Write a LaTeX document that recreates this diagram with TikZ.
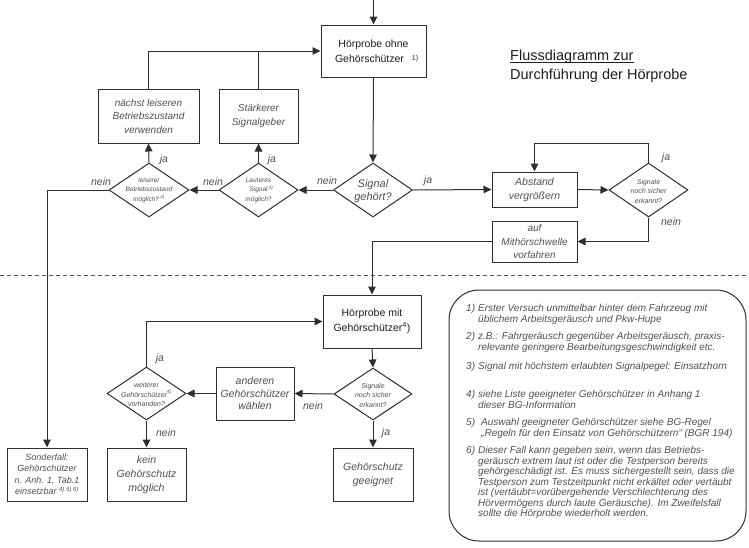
\documentclass[tikz,border=0pt]{standalone}
\usepackage{fontspec}
\setmainfont{Liberation Sans}
\usetikzlibrary{arrows.meta,shapes.geometric}
\definecolor{ln}{HTML}{2E2E2E}
\definecolor{tx}{HTML}{505050}
\definecolor{tu}{HTML}{1E1E1E}
\newcommand\mybf{\fontsize{10}{13.5}\selectfont\itshape}
\newcommand\myuf{\fontsize{10.5}{15}\selectfont}
\newcommand\mydf{\fontsize{7}{9.5}\selectfont\itshape}
\newcommand\mylf{\fontsize{10.5}{12}\selectfont\itshape}
\newcommand\mynf{\fontsize{10}{10.5}\selectfont\itshape}
\begin{document}
\begin{tikzpicture}[x=1pt,y=-1pt,
  box/.style={draw=ln,line width=1pt,rectangle,inner sep=0pt,align=center,text=tx,font=\mybf},
  ubox/.style={box,text=tu,font=\myuf},
  dia/.style={draw=ln,line width=1pt,diamond,inner sep=0pt,minimum width=79pt,minimum height=54pt},
  dtext/.style={inner sep=0pt,align=center,text=tx,font=\mydf},
  arr/.style={draw=ln,line width=1pt,-{Triangle[length=8pt,width=7.5pt]}},
  con/.style={draw=ln,line width=1pt},
  lbl/.style={inner sep=0pt,text=tx,font=\mylf},
  note/.style={inner sep=0pt,align=left,text=tx,font=\mynf,anchor=north west}]
\useasboundingbox (0,0) rectangle (749,547);
\fill[white] (0,0) rectangle (749,547);

% upper part
\node[ubox,minimum width=105pt,minimum height=52pt] (h1) at (373.5,51) {Hörprobe ohne\\Gehörschützer\hspace*{8pt}};
\node[inner sep=0pt,font=\fontsize{7}{8}\selectfont,text=tu] (h1n) at (415,59) {1)};
\node[dia] (d1) at (373,190) {};
\node[dtext,font=\fontsize{11}{12.5}\selectfont\itshape] (d1t) at (373,191) {Signal\\gehört?};
\node[dia] (d2) at (258.5,190) {};
\node[dtext,font=\fontsize{6.5}{9.5}\selectfont\itshape] (d2t) at (258.5,190) {Lauteres\\\hspace*{6pt}Signal\textsuperscript{ 3)}\\möglich?};
\node[dia,minimum width=80pt] (d3) at (149,190) {};
\node[dtext,font=\fontsize{6.5}{9.5}\selectfont\itshape] (d3t) at (149,190) {leiserer\\Betriebszustand\\möglich?\textsuperscript{ 2)}};
\node[box,minimum width=79pt,minimum height=54pt] (stk) at (258.5,116) {Stärkerer\\Signalgeber};
\node[box,minimum width=101pt,minimum height=54pt] (nl) at (148.5,116) {nächst leiseren\\Betriebszustand\\verwenden};
\node[box,minimum width=85pt,minimum height=35pt,font=\fontsize{10.5}{14}\selectfont\itshape] (ab) at (534.5,189.5) {Abstand\\vergrößern};
\node[dia] (d4) at (648.5,190) {};
\node[dtext] (d4t) at (648.5,191) {Signale\\noch sicher\\erkannt?};
\node[box,minimum width=85pt,minimum height=41pt,font=\fontsize{10}{13.5}\selectfont\itshape] (mh) at (534.5,241.5) {auf\\Mithörschwelle\\vorfahren};

% title
\node[inner sep=0pt,anchor=base west,text=tu,font=\fontsize{14.5}{17}\selectfont] (t1) at (510,60) {Flussdiagramm zur};
\node[inner sep=0pt,anchor=base west,text=tu,font=\fontsize{14.5}{17}\selectfont] (t2) at (510,79) {Durchführung der Hörprobe};
\draw[draw=tu,line width=0.9pt] ([yshift=-2.5pt]t1.base west) -- ([yshift=-2.5pt]t1.base east);

% separator
\draw[draw=ln!80,line width=1pt,dash pattern=on 4pt off 3pt] (0,275) -- (749,275);

% lower part
\node[ubox,minimum width=98pt,minimum height=53pt] (h2) at (372,321.5) {Hörprobe mit\\Gehörschützer\textsuperscript{4})};
\node[dia,minimum width=78pt,minimum height=52pt] (d5) at (373,394) {};
\node[dtext] (d5t) at (373,395) {Signale\\noch sicher\\erkannt?};
\node[box,minimum width=78pt,minimum height=53pt,font=\fontsize{10.5}{12.5}\selectfont\itshape] (an) at (255,393.5) {anderen\\Gehörschützer\\wählen};
\node[dia,minimum height=53pt] (d6) at (146.5,393.5) {};
\node[dtext] (d6t) at (146.5,394.5) {weiterer\\Gehörschützer\textsuperscript{4)}\\vorhanden?};
\node[box,minimum width=79pt,minimum height=53pt,font=\fontsize{10.5}{14}\selectfont\itshape] (kn) at (146.5,474.5) {kein\\Gehörschutz\\möglich};
\node[box,minimum width=80pt,minimum height=53pt,font=\fontsize{9}{11.5}\selectfont\itshape] (sf) at (47,474.5) {Sonderfall:\\Gehörschützer\\n. Anh. 1, Tab.1\\einsetzbar \textsuperscript{4) 5) 6)}};
\node[box,minimum width=80pt,minimum height=53pt,font=\fontsize{10.5}{14}\selectfont\itshape] (gg) at (373,474.5) {Gehörschutz\\geeignet};

% connectors upper
\coordinate (top) at (373.5,0);
\draw[arr] (top) -- (h1.north);
\draw[arr] (h1.south) -- (d1.north);
\draw[arr] (d1.west) -- (d2.east);
\draw[arr] (d2.west) -- (d3.east);
\draw[arr] (d2.north) -- (stk.south);
\draw[arr] (d3.north) -- (nl.south);
\draw[arr] (nl.north) |- (h1.west);
\draw[con] (stk.north) -- (stk.north |- h1.west);
\draw[arr] (d3.west) -| (sf.north);
\draw[arr] (d1.east) -- (ab.west);
\draw[arr] (ab.east) -- (d4.west);
\draw[arr] (d4.north) -- ++(0,-19) -| (ab.north);
\draw[arr] (d4.south) |- (mh.east);
\draw[arr] (mh.west) -| (h2.north);
% connectors lower
\draw[arr] (h2.south) -- (d5.north);
\draw[arr] (d5.west) -- (an.east);
\draw[arr] (an.west) -- (d6.east);
\draw[arr] (d6.north) |- (h2.west);
\draw[arr] (d6.south) -- (kn.north);
\draw[arr] (d5.south) -- (gg.north);

% labels
\node[lbl] (l1) at (327,181) {nein};
\node[lbl] (l2) at (428,181) {ja};
\node[lbl] (l3) at (213,182) {nein};
\node[lbl] (l4) at (272,160) {ja};
\node[lbl] (l5) at (101,182) {nein};
\node[lbl] (l6) at (164,160) {ja};
\node[lbl] (l7) at (666,158) {ja};
\node[lbl] (l8) at (671,222) {nein};
\node[lbl] (l9) at (313,406) {nein};
\node[lbl] (l10) at (386,433) {ja};
\node[lbl] (l11) at (160,359) {ja};
\node[lbl] (l12) at (166,433) {nein};

% notes
\draw[draw=ln,line width=1pt,rounded corners=30pt] (449,290) rectangle (746,541);
\node[note] (n1) at (466,304.5) {1)};
\node[note] (n1t) at (478,304.5) {Erster Versuch unmittelbar hinter dem Fahrzeug mit\\üblichem Arbeitsgeräusch und Pkw-Hupe};
\node[note] (n2) at (466,332.5) {2)};
\node[note] (n2t) at (478,332.5) {z.B.: Fahrgeräusch gegenüber Arbeitsgeräusch, praxis-\\relevante geringere Bearbeitungsgeschwindigkeit etc.};
\node[note] (n3) at (466,362.5) {3)};
\node[note] (n3t) at (478,362.5) {Signal mit höchstem erlaubten Signalpegel: Einsatzhorn};
\node[note] (n4) at (466,390.5) {4)};
\node[note] (n4t) at (478,390.5) {siehe Liste geeigneter Gehörschützer in Anhang 1\\dieser BG-Information};
\node[note] (n5) at (466,418.5) {5)};
\node[note] (n5t) at (481,418.5) {Auswahl geeigneter Gehörschützer siehe BG-Regel\\„Regeln für den Einsatz von Gehörschützern“ (BGR 194)};
\node[note] (n6) at (466,446.5) {6)};
\node[note] (n6t) at (478,446.5) {Dieser Fall kann gegeben sein, wenn das Betriebs-\\geräusch extrem laut ist oder die Testperson bereits\\gehörgeschädigt ist. Es muss sichergestellt sein, dass die\\Testperson zum Testzeitpunkt nicht erkältet oder vertäubt\\ist (vertäubt=vorübergehende Verschlechterung des\\Hörvermögens durch laute Geräusche). Im Zweifelsfall\\sollte die Hörprobe wiederholt werden.};
\end{tikzpicture}
\end{document}
